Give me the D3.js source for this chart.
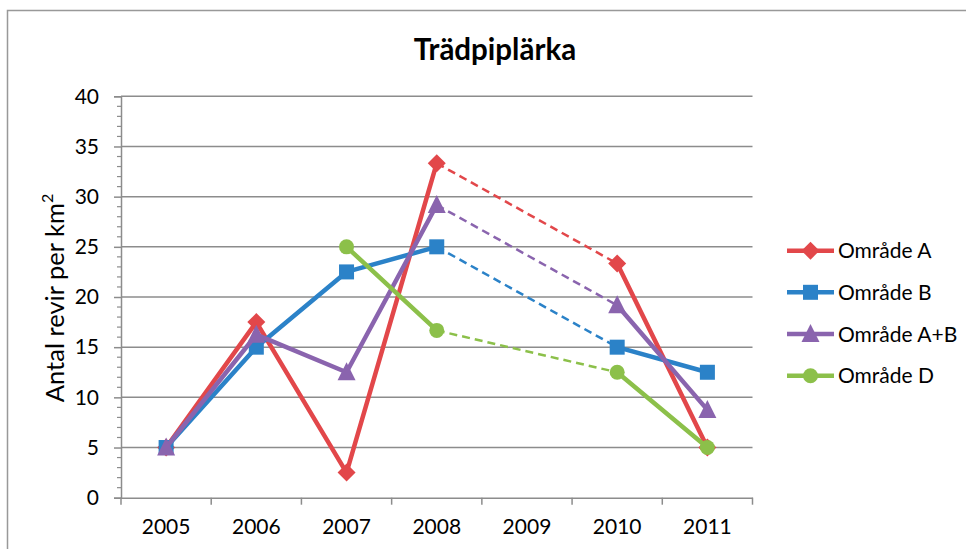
<!DOCTYPE html>
<html>
<head>
<meta charset="utf-8">
<script src="https://cdn.jsdelivr.net/npm/d3@7"></script>
<style>
  html, body { margin: 0; padding: 0; background: #fff; }
  svg { display: block; }
</style>
</head>
<body>
<svg id="chart" width="966" height="549"></svg>
<script>
// ---- data ----
const years = ["2005", "2006", "2007", "2008", "2009", "2010", "2011"];
const seriesNames = ["Område A", "Område B", "Område A+B", "Område D"];
const omradeA  = [5, 17.5, 2.5, 33.33, null, 23.33, 5];
const omradeB  = [5, 15, 22.5, 25, null, 15, 12.5];
const omradeAB = [5, 16.25, 12.5, 29.17, null, 19.17, 8.75];
const omradeD  = [null, null, 25, 16.67, null, 12.5, 5];
const yTicks = [0, 5, 10, 15, 20, 25, 30, 35, 40];
const titleText = "Trädpiplärka";
const yTitle = "Antal revir per km";

const colors = ["#E2474A", "#2B82C8", "#8A64AE", "#8CC04A"];
const shapes = ["diamond", "square", "triangle", "circle"];
const values = [omradeA, omradeB, omradeAB, omradeD];

const svg = d3.select("#chart");
const font = "Lato, 'Open Sans', sans-serif";
const gray = "#8c8c8c";

// outer border
svg.append("rect").attr("x", 7.5).attr("y", 10.5).attr("width", 1000).attr("height", 600)
  .attr("fill", "none").attr("stroke", "#999").attr("stroke-width", 1.5);

const pLeft = 121, pRight = 752.5, pTop = 96.3, pBottom = 497.7;
const x = d3.scaleBand().domain(years).range([pLeft, pRight]);
const y = d3.scaleLinear().domain([0, 40]).range([pBottom, pTop]);
const cx = i => x(years[i]) + x.bandwidth() / 2;

// title
svg.append("text").attr("x", 495).attr("y", 60).attr("text-anchor", "middle")
  .attr("font-family", font).attr("font-weight", "bold").attr("font-size", 29.5)
  .attr("fill", "#000").text(titleText);

// gridlines
svg.append("g").selectAll("line").data(yTicks.filter(d => d > 0)).join("line")
  .attr("x1", pLeft).attr("x2", pRight).attr("y1", d => y(d)).attr("y2", d => y(d))
  .attr("stroke", gray).attr("stroke-width", 1.5);

// y axis
const yAxis = svg.append("g").attr("transform", `translate(${pLeft},0)`)
  .call(d3.axisLeft(y).tickValues(yTicks).tickSize(7).tickPadding(15));
yAxis.select(".domain").attr("stroke", gray).attr("stroke-width", 1.5);
yAxis.selectAll(".tick line").attr("stroke", gray).attr("stroke-width", 1.5);
yAxis.selectAll(".tick text").attr("font-family", font).attr("font-size", 21).attr("fill", "#000");
// minor ticks
const minor = d3.range(0, 41).filter(d => d % 5 !== 0);
svg.append("g").selectAll("line").data(minor).join("line")
  .attr("x1", pLeft - 4).attr("x2", pLeft).attr("y1", d => y(d)).attr("y2", d => y(d))
  .attr("stroke", gray).attr("stroke-width", 1.2);

// x axis
const xAxis = svg.append("g").attr("transform", `translate(0,${pBottom})`)
  .call(d3.axisBottom(x).tickSize(0).tickPadding(21));
xAxis.select(".domain").attr("stroke", gray).attr("stroke-width", 1.5);
xAxis.selectAll(".tick text").attr("font-family", font).attr("font-size", 21).attr("fill", "#000");
const bounds = years.map(d => x(d)).concat([pRight]);
svg.append("g").selectAll("line").data(bounds).join("line")
  .attr("x1", d => d).attr("x2", d => d).attr("y1", pBottom).attr("y2", pBottom + 7)
  .attr("stroke", gray).attr("stroke-width", 1.5);

// y title
const yt = svg.append("text").attr("transform", "translate(64,298) rotate(-90)")
  .attr("text-anchor", "middle").attr("font-family", font).attr("font-size", 25.5).attr("fill", "#000");
yt.append("tspan").text(yTitle);
yt.append("tspan").attr("dy", -11).attr("font-size", 16).text("2");

// marker drawing
function marker(g, shape, px, py, color) {
  if (shape === "diamond") {
    const s = 9;
    g.append("path").attr("d", `M${px},${py - s}L${px + s},${py}L${px},${py + s}L${px - s},${py}Z`).attr("fill", color);
  } else if (shape === "square") {
    const s = 7.5;
    g.append("rect").attr("x", px - s).attr("y", py - s).attr("width", 2 * s).attr("height", 2 * s).attr("fill", color);
  } else if (shape === "triangle") {
    const s = 9;
    g.append("path").attr("d", `M${px},${py - s - 1}L${px + s},${py + s - 1}L${px - s},${py + s - 1}Z`).attr("fill", color);
  } else {
    g.append("circle").attr("cx", px).attr("cy", py).attr("r", 7.5).attr("fill", color);
  }
}

const line = d3.line().defined(d => d.v !== null).x(d => cx(d.i)).y(d => y(d.v));

values.forEach((vals, k) => {
  const g = svg.append("g");
  const pts = vals.map((v, i) => ({ i, v }));
  const def = pts.filter(p => p.v !== null);
  // dashed gap segments
  for (let j = 0; j < def.length - 1; j++) {
    if (def[j + 1].i - def[j].i > 1) {
      g.append("line").attr("x1", cx(def[j].i)).attr("y1", y(def[j].v))
        .attr("x2", cx(def[j + 1].i)).attr("y2", y(def[j + 1].v))
        .attr("stroke", colors[k]).attr("stroke-width", 2.5).attr("stroke-dasharray", "8,5");
    }
  }
  g.append("path").attr("d", line(pts)).attr("fill", "none")
    .attr("stroke", colors[k]).attr("stroke-width", 4.5).attr("stroke-linejoin", "round");
  def.forEach(p => marker(g, shapes[k], cx(p.i), y(p.v), colors[k]));
});

// legend
const legY = [250.7, 292.3, 334, 375.7];
seriesNames.forEach((name, k) => {
  const g = svg.append("g");
  g.append("line").attr("x1", 787).attr("x2", 834).attr("y1", legY[k]).attr("y2", legY[k])
    .attr("stroke", colors[k]).attr("stroke-width", 4.5);
  marker(g, shapes[k], 810.5, legY[k], colors[k]);
  g.append("text").attr("x", 838).attr("y", legY[k]).attr("dy", "0.36em")
    .attr("font-family", font).attr("font-size", 21).attr("fill", "#000").text(name);
});
</script>
</body>
</html>
